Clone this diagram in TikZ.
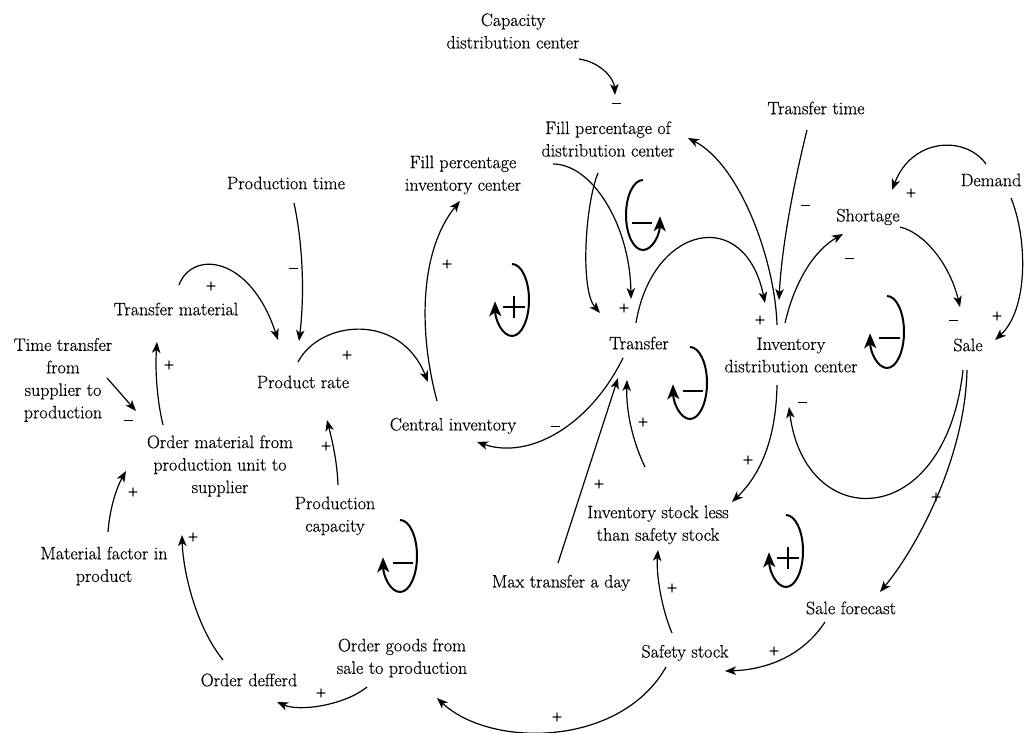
\documentclass[tikz,border=0pt]{standalone}
\usepackage{fontspec}
\setmainfont{Latin Modern Roman}[FakeBold=0.4]
\usetikzlibrary{arrows.meta}
\begin{document}
\begin{tikzpicture}[x=1pt,y=-1pt,
  lbl/.style={align=center,inner sep=0pt,font=\fontsize{18}{22.5}\selectfont},
  pm/.style={inner sep=0pt,font=\fontsize{14}{14}\selectfont},
  link/.style={line width=1.2pt,-{Stealth[length=11pt,width=8.5pt,inset=3pt]}},
  loopline/.style={line width=2pt,-{Stealth[length=15pt,width=12pt,inset=4pt]}},
  sign/.style={line width=2.2pt},
  cw loop/.pic={\draw[loopline] (0,-36) arc[start angle=90,end angle=-178,x radius=17pt,y radius=36pt];},
  ccw loop/.pic={\draw[loopline] (0,-35) arc[start angle=90,end angle=358,x radius=17pt,y radius=35pt];}
]
\useasboundingbox (0,0) rectangle (1031,733);

% variables
\node[lbl] (cap)  at (513,31)  {Capacity\\distribution center};
\node[lbl] (fpdc) at (608,139) {Fill percentage of\\distribution center};
\node[lbl] (tt)   at (816,108) {Transfer time};
\node[lbl] (pt)   at (286,183) {Production time};
\node[lbl] (fpic) at (463,175) {Fill percentage\\inventory center};
\node[lbl] (dem)  at (991,180) {Demand};
\node[lbl] (sho)  at (868,217) {Shortage};
\node[lbl] (tm)   at (176,309) {Transfer material};
\node[lbl] (ttsp) at (63,380)  {Time transfer\\from\\supplier to\\production};
\node[lbl] (pr)   at (303,382) {Product rate};
\node[lbl] (tr)   at (639,343) {Transfer};
\node[lbl] (idc)  at (791,355) {Inventory\\distribution center};
\node[lbl] (sale) at (968,345) {Sale};
\node[lbl] (ci)   at (453,426) {Central inventory};
\node[lbl] (om)   at (220,466) {Order material from\\production unit to\\supplier};
\node[lbl] (pc)   at (335,516) {Production\\capacity};
\node[lbl] (isl)  at (658,525) {Inventory stock less\\than safety stock};
\node[lbl] (mf)   at (104,566) {Material factor in\\product};
\node[lbl] (mt)   at (561,583) {Max transfer a day};
\node[lbl] (sf)   at (851,608) {Sale forecast};
\node[lbl] (ss)   at (685,653) {Safety stock};
\node[lbl] (og)   at (402,658) {Order goods from\\sale to production};
\node[lbl] (od)   at (249,680) {Order defferd};

% causal links
\draw[link] ([shift={(66,28)}]cap.center) .. controls (600,62) and (614,78) .. ([shift={(7,-44)}]fpdc.center);
\draw[link] ([shift={(90,-11)}]fpic.center) .. controls (592,164) and (630,225) .. ([shift={(-8,-44)}]tr.center);
\draw[link] ([shift={(-10,34)}]fpdc.center) .. controls (585,205) and (580,290) .. ([shift={(-39,-30)}]tr.center);
\draw[link] ([shift={(-3,-20)}]tr.center) .. controls (652,225) and (745,205) .. ([shift={(-26,-52)}]idc.center);
\draw[link] ([shift={(-14,-30)}]idc.center) .. controls (775,260) and (740,165) .. ([shift={(80,-1)}]fpdc.center);
\draw[link] ([shift={(-9,22)}]tt.center) .. controls (797,170) and (782,240) .. ([shift={(-12,-55)}]idc.center);
\draw[link] ([shift={(-6,-32)}]idc.center) .. controls (795,280) and (815,250) .. ([shift={(-25,17)}]sho.center);
\draw[link] ([shift={(-5,-16)}]dem.center) .. controls (965,135) and (912,138) .. ([shift={(24,-27)}]sho.center);
\draw[link] ([shift={(20,18)}]dem.center) .. controls (1028,240) and (1028,310) .. ([shift={(27,-5)}]sale.center);
\draw[link] ([shift={(32,10)}]sho.center) .. controls (925,233) and (950,265) .. ([shift={(-8,-38)}]sale.center);
\draw[link] ([shift={(-5,25)}]sale.center) .. controls (945,533) and (805,533) .. ([shift={(-2,52)}]idc.center);
\draw[link] ([shift={(-1,25)}]sale.center) .. controls (965,460) and (915,550) .. ([shift={(29,-16)}]sf.center);
\draw[link] ([shift={(-14,30)}]idc.center) .. controls (776,440) and (760,475) .. ([shift={(74,-23)}]isl.center);
\draw[link] ([shift={(-26,14)}]sf.center) .. controls (800,660) and (760,670) .. ([shift={(40,18)}]ss.center);
\draw[link] ([shift={(-13,-20)}]ss.center) .. controls (662,610) and (656,575) .. ([shift={(0,25)}]isl.center);
\draw[link] ([shift={(-19,14)}]ss.center) .. controls (620,748) and (490,748) .. ([shift={(35,40)}]og.center);
\draw[link] ([shift={(-3,-20)}]mt.center) -- ([shift={(-21,35)}]tr.center);
\draw[link] ([shift={(-13,-58)}]isl.center) .. controls (632,440) and (626,410) .. ([shift={(-12,37)}]tr.center);
\draw[link] ([shift={(-16,15)}]tr.center) .. controls (590,425) and (530,460) .. ([shift={(24,16)}]ci.center);
\draw[link] ([shift={(-5,-20)}]pr.center) .. controls (320,320) and (400,312) .. ([shift={(-25,-44)}]ci.center);
\draw[link] ([shift={(-16,-25)}]ci.center) .. controls (418,330) and (420,250) .. ([shift={(-3,26)}]fpic.center);
\draw[link] ([shift={(3,-24)}]tm.center) .. controls (192,250) and (250,255) .. ([shift={(-25,-42)}]pr.center);
\draw[link] ([shift={(8,20)}]pt.center) .. controls (304,250) and (304,300) .. ([shift={(-4,-41)}]pr.center);
\draw[link] ([shift={(3,-31)}]pc.center) .. controls (337,460) and (332,440) .. ([shift={(24,38)}]pr.center);
\draw[link] ([shift={(-57,-41)}]om.center) .. controls (157,400) and (155,370) .. ([shift={(-19,33)}]tm.center);
\draw[link] ([shift={(44,-2)}]ttsp.center) -- ([shift={(-84,-55)}]om.center);
\draw[link] ([shift={(4,-34)}]mf.center) .. controls (110,505) and (118,485) .. ([shift={(-94,5)}]om.center);
\draw[link] ([shift={(-26,-20)}]od.center) .. controls (195,625) and (183,570) .. ([shift={(-38,69)}]om.center);
\draw[link] ([shift={(-35,29)}]og.center) .. controls (345,705) and (300,712) .. ([shift={(28,22)}]od.center);

% polarity marks
\node[pm] (s1)  at (616,103) {\rule{9pt}{0.9pt}};
\node[pm] (s2)  at (624,308) {+};
\node[pm] (s4)  at (760,320) {+};
\node[pm] (s6)  at (805,205) {\rule{9pt}{0.9pt}};
\node[pm] (s7)  at (849,258) {\rule{9pt}{0.9pt}};
\node[pm] (s8)  at (911,193) {+};
\node[pm] (s9)  at (997,316) {+};
\node[pm] (s10) at (953,320) {\rule{9pt}{0.9pt}};
\node[pm] (s11) at (802,402) {\rule{9pt}{0.9pt}};
\node[pm] (s12) at (936,497) {+};
\node[pm] (s13) at (748,460) {+};
\node[pm] (s14) at (774,651) {+};
\node[pm] (s15) at (672,588) {+};
\node[pm] (s16) at (557,717) {+};
\node[pm] (s17) at (599,484) {+};
\node[pm] (s18) at (643,422) {+};
\node[pm] (s19) at (555,426) {\rule{9pt}{0.9pt}};
\node[pm] (s20) at (347,355) {+};
\node[pm] (s21) at (447,264) {+};
\node[pm] (s22) at (211,286) {+};
\node[pm] (s23) at (293,268) {\rule{9pt}{0.9pt}};
\node[pm] (s24) at (326,446) {+};
\node[pm] (s25) at (169,365) {+};
\node[pm] (s26) at (128,420) {\rule{9pt}{0.9pt}};
\node[pm] (s27) at (133,492) {+};
\node[pm] (s28) at (193,537) {+};
\node[pm] (s29) at (321,693) {+};

% feedback loop markers
\pic at (512,300) {cw loop};
\draw[sign] (503,307) -- (525,307) (514,296) -- (514,318);
\pic at (643,215) {ccw loop};
\draw[sign] (632,223) -- (652,223);
\pic at (690,383) {cw loop};
\draw[sign] (683,391) -- (703,391);
\pic at (887,332) {cw loop};
\draw[sign] (879,338) -- (900,338);
\pic at (786,551) {cw loop};
\draw[sign] (777,558) -- (799,558) (788,547) -- (788,569);
\pic at (400,556) {cw loop};
\draw[sign] (393,563) -- (413,563);
\end{tikzpicture}
\end{document}
